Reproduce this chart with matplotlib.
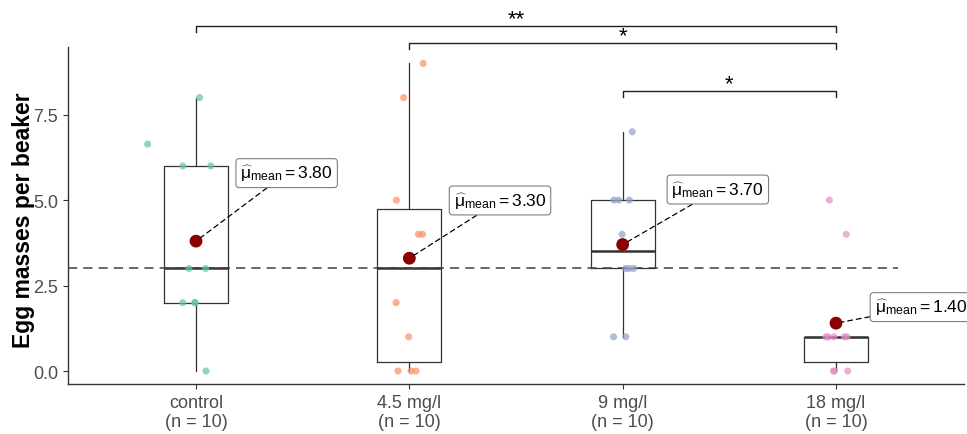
import numpy as np
import matplotlib as mpl
mpl.use("Agg")
import matplotlib.pyplot as plt

plt.rcParams['font.family'] = ['Liberation Sans', 'DejaVu Sans']
plt.rcParams['mathtext.fontset'] = 'custom'
plt.rcParams['mathtext.rm'] = 'Liberation Sans'
plt.rcParams['mathtext.it'] = 'Liberation Sans:italic'
plt.rcParams['mathtext.bf'] = 'Liberation Sans:bold'

# groups and tick labels
groups = ['control', '4.5 mg/l', '9 mg/l', '18 mg/l']
n_obs = [10, 10, 10, 10]
colors = ['#66C2A5', '#FC8D62', '#8DA0CB', '#E78AC3']

# egg masses per beaker, as drawn (with the horizontal jitter)
control_vals = [8, 6.64, 6, 6, 3, 3, 2, 2, 2, 0]
control_jit = [0.017, -0.227, -0.062, 0.069, -0.033, 0.045, -0.062, -0.006, -0.004, 0.047]
c45_vals = [9, 8, 5, 4, 4, 2, 1, 0, 0, 0]
c45_jit = [0.065, -0.027, -0.061, 0.043, 0.062, -0.062, -0.003, -0.053, 0.008, 0.031]
c9_vals = [7, 5, 5, 5, 4, 3, 3, 3, 1, 1]
c9_jit = [0.045, -0.041, -0.019, 0.031, -0.003, 0.014, 0.030, 0.051, -0.043, 0.015]
c18_vals = [5, 4, 1, 1, 1, 1, 1, 0, 0, 0]
c18_jit = [-0.031, 0.048, -0.047, -0.036, -0.009, 0.039, 0.051, -0.013, -0.007, 0.055]

# box summaries
q1 = [2.0, 0.25, 3.0, 0.25]
medians = [3.0, 3.0, 3.5, 1.0]
q3 = [6.0, 4.75, 5.0, 1.0]
whis_lo = [0, 0, 1, 0]
whis_hi = [8, 9, 7, 1]
means = [3.80, 3.30, 3.70, 1.40]

# reference line and significance brackets
ref_level = 3
brackets = [(1, 4, '**'), (2, 4, '*'), (3, 4, '*')]
bracket_y = [10.10, 9.60, 8.19]

# label placement (centres of the mean labels)
label_pos = [(1.425, 5.79), (2.425, 4.99), (3.446, 5.31), (4.398, 1.87)]

all_vals = [control_vals, c45_vals, c9_vals, c18_vals]
all_jit = [control_jit, c45_jit, c9_jit, c18_jit]
pos = np.arange(1, len(groups) + 1)

fig = plt.figure(figsize=(9.67, 4.35), dpi=100)
ax = fig.add_axes([68 / 967, 1 - 385 / 435, (964 - 68) / 967, (385 - 48) / 435])

dark = '#333333'
stats = []
for i in range(len(groups)):
    stats.append(dict(med=medians[i], q1=q1[i], q3=q3[i],
                      whislo=whis_lo[i], whishi=whis_hi[i], fliers=[]))
ax.bxp(stats, positions=pos, widths=0.3, showfliers=False, showcaps=False,
       boxprops=dict(color=dark, lw=0.9),
       whiskerprops=dict(color=dark, lw=0.9),
       medianprops=dict(color=dark, lw=1.8))

ax.plot([0.4, 4.29], [ref_level, ref_level], color='#404040', lw=1.1,
        ls=(0, (6, 4)), zorder=3)

for i in range(len(groups)):
    x = pos[i] + np.array(all_jit[i])
    ax.scatter(x, all_vals[i], s=26, color=colors[i], alpha=0.7,
               edgecolors='none', zorder=4)

ax.scatter(pos, means, s=85, color='#8B0000', zorder=5, edgecolors='none')

for i in range(len(groups)):
    txt = r'$\widehat{\mathrm{\mu}}_{\mathrm{mean}}=%.2f$' % means[i]
    ax.annotate(txt, xy=(pos[i], means[i]), xytext=label_pos[i],
                ha='center', va='center', fontsize=12.6, annotation_clip=False,
                bbox=dict(boxstyle='round,pad=0.25,rounding_size=0.2',
                          fc='white', ec='#7F7F7F', lw=0.8),
                arrowprops=dict(arrowstyle='-', color='black', lw=0.9,
                                ls=(0, (4, 3)), shrinkA=0, shrinkB=4),
                zorder=6)

tip = 0.18
for (a, b, star), yb in zip(brackets, bracket_y):
    ax.plot([a, a, b, b], [yb - tip, yb, yb, yb - tip], color='#222222',
            lw=1.0, clip_on=False)
    ax.text((a + b) / 2, yb - 0.1, star, ha='center', va='bottom',
            fontsize=16, color='black')

ax.set_xlim(0.4, 4.6)
ax.set_ylim(-0.38, 9.48)
ax.set_yticks([0, 2.5, 5.0, 7.5])
ax.set_yticklabels(['0.0', '2.5', '5.0', '7.5'])
ax.set_xticks(pos)
ax.set_xticklabels([f'{g}\n(n = {n})' for g, n in zip(groups, n_obs)],
                   linespacing=1.15)
ax.tick_params(colors='#4D4D4D', labelsize=13, length=3.5, width=0.8)
ax.tick_params(axis='both', color=dark)
for side in ['top', 'right']:
    ax.spines[side].set_visible(False)
for side in ['left', 'bottom']:
    ax.spines[side].set_color(dark)
    ax.spines[side].set_linewidth(1.0)
ax.set_ylabel('Egg masses per beaker', fontsize=16.5, fontweight='bold')
ax.yaxis.set_label_coords(-0.037, 0.49)

fig.savefig('out.png', dpi=100)
